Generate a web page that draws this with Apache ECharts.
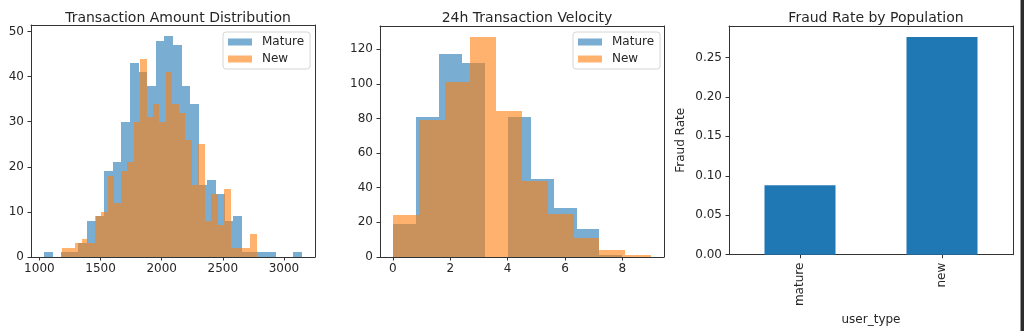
<!DOCTYPE html>
<html>
<head>
<meta charset="utf-8">
<script src="https://cdn.jsdelivr.net/npm/echarts@6/dist/echarts.min.js"></script>
<style>
  html, body { margin: 0; padding: 0; background: #ffffff; }
  #chart { width: 1024px; height: 331px; }
</style>
</head>
<body>
<div id="chart"></div>
<script>
// ---------- DATA ----------
// Panel 1: Transaction Amount Distribution (30 bins each)
const amountMatureRange = [1037, 3148];
const amountMatureCounts = [1, 0, 1, 1, 3, 8, 9, 19, 21, 30, 43, 41, 38, 48, 49, 47, 38, 34, 16, 17, 14, 8, 9, 1, 1, 1, 1, 0, 0, 1];
const amountNewRange = [1186, 2778];
const amountNewCounts = [2, 2, 3, 4, 3, 9, 10, 18, 12, 19, 21, 30, 44, 31, 34, 30, 41, 34, 32, 26, 16, 25, 8, 14, 7, 15, 2, 2, 2, 5];
const amountXTicks = [1000, 1500, 2000, 2500, 3000];
const amountYTicks = [0, 10, 20, 30, 40, 50];

// Panel 2: 24h Transaction Velocity (10 bins each)
const velocityMatureRange = [0, 8];
const velocityMatureCounts = [19, 81, 117, 112, 0, 81, 45, 28, 16, 1];
const velocityNewRange = [0, 9];
const velocityNewCounts = [24, 79, 101, 127, 84, 44, 25, 11, 4, 1];
const velocityXTicks = [0, 2, 4, 6, 8];
const velocityYTicks = [0, 20, 40, 60, 80, 100, 120];

// Panel 3: Fraud Rate by Population
const userTypes = ['mature', 'new'];
const fraudRates = [0.088, 0.276];
const rateYTicks = [0, 0.05, 0.10, 0.15, 0.20, 0.25];

const seriesNames = ['Mature', 'New'];
const titles = ['Transaction Amount Distribution', '24h Transaction Velocity', 'Fraud Rate by Population'];

// ---------- HELPERS ----------
function binRows(range, counts) {
  const w = (range[1] - range[0]) / counts.length;
  return counts.map((c, i) => [range[0] + i * w, range[0] + (i + 1) * w, c]);
}
function padded(ranges) {
  const lo = Math.min(...ranges.map(r => r[0]));
  const hi = Math.max(...ranges.map(r => r[1]));
  const m = (hi - lo) * 0.05;
  return [lo - m, hi + m];
}
const FONT = 'DejaVu Sans';
const TXT = '#262626';
const AX = '#333333';
const FS = 12;
const BLUE_A = 'rgba(31,119,180,0.6)';
const ORANGE_A = 'rgba(255,127,14,0.6)';

function valueAxis(gridIndex, min, max, ticks, fmt, margin) {
  return {
    type: 'value', gridIndex, min, max,
    axisLine: { show: true, onZero: false, lineStyle: { color: AX, width: 1 } },
    axisTick: { show: true, length: 3.5, customValues: ticks, lineStyle: { color: AX, width: 1 } },
    axisLabel: { customValues: ticks, color: TXT, fontSize: FS, fontFamily: FONT, margin: margin || 6,
      formatter: fmt || (v => String(v)) },
    splitLine: { show: false }
  };
}
function frameAxis(gridIndex, isX, min, max) {
  return {
    type: 'value', gridIndex, min, max, position: isX ? 'top' : 'right',
    axisLine: { show: true, onZero: false, lineStyle: { color: AX, width: 1 } },
    axisTick: { show: false }, axisLabel: { show: false }, splitLine: { show: false }
  };
}
function histSeries(name, color, xi, rows) {
  return {
    name, type: 'custom', xAxisIndex: xi, yAxisIndex: xi,
    itemStyle: { color },
    encode: { x: [0, 1], y: 2 },
    data: rows,
    renderItem: function (params, api) {
      const p0 = api.coord([api.value(0), api.value(2)]);
      const p1 = api.coord([api.value(1), 0]);
      const x0 = Math.round(p0[0]), x1 = Math.round(p1[0]);
      const y0 = Math.round(p0[1]), y1 = Math.round(p1[1]);
      return { type: 'rect',
        shape: { x: x0, y: y0, width: x1 - x0, height: y1 - y0 },
        style: { fill: color } };
    }
  };
}
function legendAt(left, top) {
  return {
    data: seriesNames, orient: 'vertical', left, top,
    icon: 'rect', itemWidth: 24, itemHeight: 7, itemGap: 5,
    padding: [4, 6, 4, 5],
    borderColor: '#d6d6d6', borderWidth: 1, borderRadius: 3,
    backgroundColor: 'rgba(255,255,255,0.8)',
    textStyle: { color: TXT, fontSize: FS, fontFamily: FONT, padding: [0, 0, 0, 5] },
    selectedMode: false
  };
}

const amountX = padded([amountMatureRange, amountNewRange]);
const amountYMax = Math.max(...amountMatureCounts, ...amountNewCounts) * 1.05;
const velX = padded([velocityMatureRange, velocityNewRange]);
const velYMax = Math.max(...velocityMatureCounts, ...velocityNewCounts) * 1.05;
const rateYMax = Math.max(...fraudRates) * 1.05;

const grids = [
  { left: 31, top: 25, width: 284, height: 232 },
  { left: 380, top: 26, width: 284, height: 231 },
  { left: 729, top: 26, width: 284, height: 231 }
];

const option = {
  backgroundColor: '#ffffff',
  animation: false,
  title: titles.map((t, i) => ({
    text: t, left: grids[i].left + grids[i].width / 2, top: 6, textAlign: 'center',
    textStyle: { color: TXT, fontSize: 14, fontWeight: 'normal', fontFamily: FONT }
  })),
  legend: [legendAt(223, 32), legendAt(573, 32)],
  grid: grids,
  xAxis: [
    valueAxis(0, amountX[0], amountX[1], amountXTicks),
    valueAxis(1, velX[0], velX[1], velocityXTicks),
    {
      type: 'category', gridIndex: 2, data: userTypes, boundaryGap: true,
      axisLine: { show: true, onZero: false, lineStyle: { color: AX, width: 1 } },
      axisTick: { show: true, alignWithLabel: true, length: 3.5, lineStyle: { color: AX } },
      axisLabel: { rotate: 90, color: TXT, fontSize: FS, fontFamily: FONT, margin: 8 },
      name: 'user_type', nameLocation: 'middle', nameGap: 57,
      nameTextStyle: { color: TXT, fontSize: FS, fontFamily: FONT }
    },
    frameAxis(0, true, 0, 1), frameAxis(1, true, 0, 1), frameAxis(2, true, 0, 1)
  ],
  yAxis: [
    valueAxis(0, 0, amountYMax, amountYTicks, null, 7),
    valueAxis(1, 0, velYMax, velocityYTicks, null, 7),
    Object.assign(valueAxis(2, 0, rateYMax, rateYTicks, v => v.toFixed(2), 7), {
      name: 'Fraud Rate', nameLocation: 'middle', nameGap: 42, nameRotate: 90,
      nameTextStyle: { color: TXT, fontSize: FS, fontFamily: FONT }
    }),
    frameAxis(0, false, 0, 1), frameAxis(1, false, 0, 1), frameAxis(2, false, 0, 1)
  ],
  series: [
    histSeries('Mature', BLUE_A, 0, binRows(amountMatureRange, amountMatureCounts)),
    histSeries('New', ORANGE_A, 0, binRows(amountNewRange, amountNewCounts)),
    histSeries('Mature', BLUE_A, 1, binRows(velocityMatureRange, velocityMatureCounts)),
    histSeries('New', ORANGE_A, 1, binRows(velocityNewRange, velocityNewCounts)),
    {
      type: 'bar', xAxisIndex: 2, yAxisIndex: 2, data: fraudRates,
      barWidth: '50%', itemStyle: { color: '#1f77b4' }
    }
  ],
  graphic: [
    { type: 'rect', shape: { x: 1020, y: 0, width: 1, height: 331 }, style: { fill: '#9a9a9a' }, silent: true },
    { type: 'rect', shape: { x: 1021, y: 0, width: 3, height: 331 }, style: { fill: '#2b2b2b' }, silent: true }
  ]
};

const chart = echarts.init(document.getElementById('chart'), null, { renderer: 'canvas' });
chart.setOption(option);
</script>
</body>
</html>
